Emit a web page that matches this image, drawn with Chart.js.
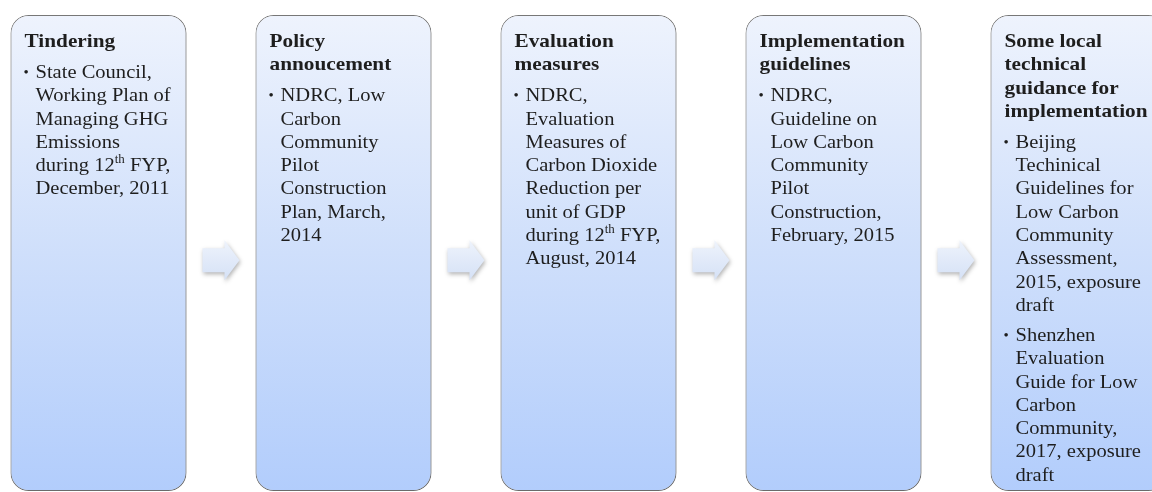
<!DOCTYPE html>
<html>
<head>
<meta charset="utf-8">
<script src="https://cdn.jsdelivr.net/npm/chart.js@4"></script>
<style>
  html, body { margin: 0; padding: 0; background: #fff; overflow: hidden; }
  body { width: 1152px; height: 492px; position: relative; }
  #wrap { position: absolute; left: -24px; top: 0; width: 1225px; height: 492px; }
</style>
</head>
<body>
<div id="wrap"><canvas id="flow"></canvas></div>
<script>
// Stages of the low carbon community policy, left to right
const stageLabels = ['Tindering', 'Policy annoucement', 'Evaluation measures', 'Implementation guidelines', 'Local guidance'];
const stageValues = [1, 1, 1, 1, 1]; // every box runs the full height

// Heading lines per box, as wrapped in the picture
const stageTitles = [
    ['Tindering'],
    ['Policy', 'annoucement'],
    ['Evaluation', 'measures'],
    ['Implementation', 'guidelines'],
    ['Some local', 'technical', 'guidance for', 'implementation']
];

// Bullet items per box (^ marks superscript)
const stageBullets = [
    [['State Council,', 'Working Plan of', 'Managing GHG', 'Emissions', 'during 12^th FYP,', 'December, 2011']],
    [['NDRC, Low', 'Carbon', 'Community', 'Pilot', 'Construction', 'Plan, March,', '2014']],
    [['NDRC,', 'Evaluation', 'Measures of', 'Carbon Dioxide', 'Reduction per', 'unit of GDP', 'during 12^th FYP,', 'August, 2014']],
    [['NDRC,', 'Guideline on', 'Low Carbon', 'Community', 'Pilot', 'Construction,', 'February, 2015']],
    [['Beijing', 'Techinical', 'Guidelines for', 'Low Carbon', 'Community', 'Assessment,', '2015, exposure', 'draft'],
     ['Shenzhen', 'Evaluation', 'Guide for Low', 'Carbon', 'Community,', '2017, exposure', 'draft']]
];

const arrowLevel = 0.485; // where the arrows sit on the value axis

const serif = '"Liberation Serif", "Times New Roman", serif';
const lineStep = 23.3;

function drawRich(ctx, str, x, y, bold) {
    const parts = str.split(/\^(\w+)/);
    ctx.save();
    ctx.translate(x, y);
    ctx.scale(bold ? 1.12 : 1.08, 1);
    let cx = 0;
    parts.forEach((p, k) => {
        if (k % 2) {
            ctx.font = '12px ' + serif;
            ctx.fillText(p, cx, -6);
        } else {
            ctx.font = (bold ? 'bold ' : '') + '19px ' + serif;
            ctx.fillText(p, cx, 0);
        }
        cx += ctx.measureText(p).width;
    });
    ctx.restore();
}

const shadowPlugin = {
    id: 'shadow',
    beforeDatasetsDraw(chart) {
        const ctx = chart.ctx;
        ctx.save();
        ctx.shadowColor = 'rgba(0,0,0,0.28)';
        ctx.shadowBlur = 4;
        ctx.shadowOffsetX = 1;
        ctx.shadowOffsetY = 1;
    },
    afterDatasetsDraw(chart) {
        chart.ctx.restore();
    }
};

const flowPlugin = {
    id: 'flow',
    afterDraw(chart) {
        const ctx = chart.ctx;
        const bars = chart.getDatasetMeta(0).data;
        const yScale = chart.scales.y;

        // arrows between boxes
        const ay = yScale.getPixelForValue(arrowLevel);
        for (let i = 0; i < bars.length - 1; i++) {
            const right = bars[i].x + bars[i].width / 2;
            const left = bars[i + 1].x - bars[i + 1].width / 2;
            const mid = (right + left) / 2;
            const x0 = mid - 18.5, x1 = mid + 3.5, x2 = mid + 18.5;
            ctx.save();
            ctx.shadowColor = 'rgba(0,0,0,0.3)';
            ctx.shadowBlur = 4;
            ctx.shadowOffsetX = 1;
            ctx.shadowOffsetY = 2;
            const g = ctx.createLinearGradient(0, ay - 20, 0, ay + 20);
            g.addColorStop(0, '#eef3fc');
            g.addColorStop(1, '#d5e1f6');
            ctx.fillStyle = g;
            ctx.beginPath();
            ctx.moveTo(x0, ay - 12);
            ctx.lineTo(x1, ay - 12);
            ctx.lineTo(x1, ay - 20);
            ctx.lineTo(x2, ay);
            ctx.lineTo(x1, ay + 20);
            ctx.lineTo(x1, ay + 12);
            ctx.lineTo(x0, ay + 12);
            ctx.closePath();
            ctx.fill();
            ctx.restore();
        }

        // texts inside boxes
        ctx.save();
        ctx.fillStyle = '#1e1e1e';
        ctx.textBaseline = 'middle';
        ctx.textAlign = 'left';
        bars.forEach((bar, i) => {
            const left = bar.x - bar.width / 2;
            let y = bar.y + 27;
            stageTitles[i].forEach(line => {
                drawRich(ctx, line, left + 14, y, true);
                y += lineStep;
            });
            y += 31 - lineStep;
            stageBullets[i].forEach(item => {
                ctx.font = '15px ' + serif;
                ctx.fillText('\u2022', left + 13, y);
                item.forEach(line => {
                    drawRich(ctx, line, left + 25, y, false);
                    y += lineStep;
                });
                y += 30 - lineStep;
            });
        });
        ctx.restore();
    }
};

new Chart(document.getElementById('flow'), {
    type: 'bar',
    data: {
        labels: stageLabels,
        datasets: [{
            data: stageValues,
            backgroundColor(c) {
                const area = c.chart.chartArea;
                if (!area) return '#c8daf9';
                const g = c.chart.ctx.createLinearGradient(0, area.top, 0, area.bottom);
                g.addColorStop(0, '#eef3fd');
                g.addColorStop(0.5, '#cfdffb');
                g.addColorStop(1, '#b2cdfc');
                return g;
            },
            borderColor: '#808080',
            borderWidth: 1,
            borderRadius: 18,
            borderSkipped: false,
            categoryPercentage: 1,
            barPercentage: 176 / 245
        }]
    },
    options: {
        responsive: true,
        maintainAspectRatio: false,
        animation: false,
        layout: { padding: { top: 15, bottom: 1, left: 0, right: 0 } },
        plugins: { legend: { display: false }, tooltip: { enabled: false } },
        scales: {
            x: { display: false },
            y: { display: false, min: 0, max: 1 }
        }
    },
    plugins: [shadowPlugin, flowPlugin]
});
</script>
</body>
</html>
